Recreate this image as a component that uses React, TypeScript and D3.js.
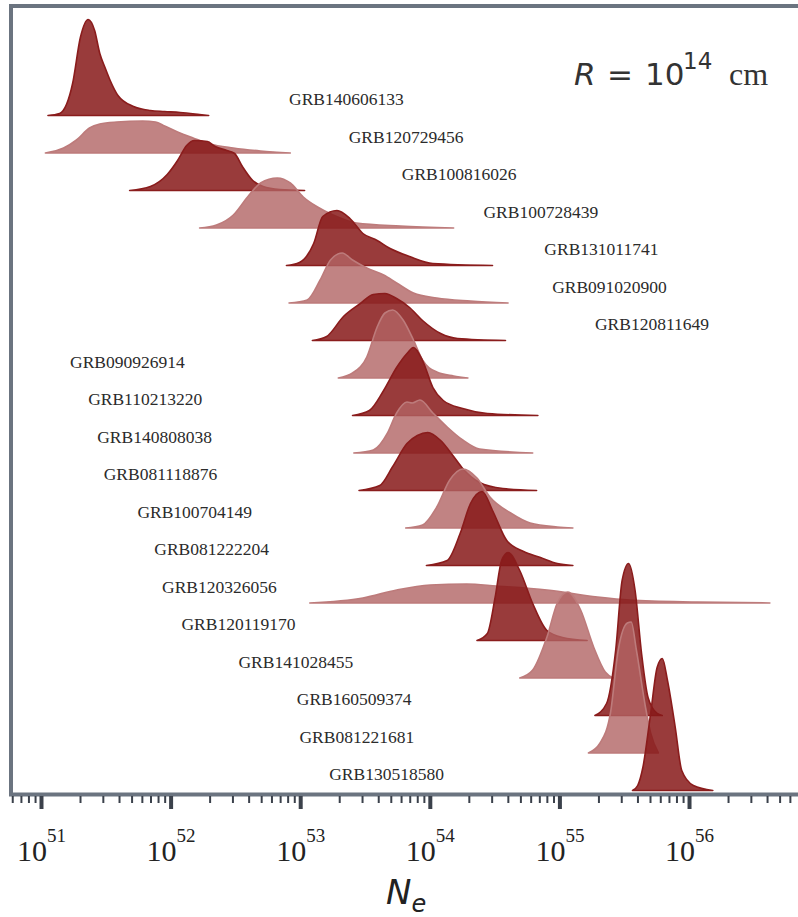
import React, { useEffect, useRef } from "react";
import * as d3 from "d3";

const W = 798;
const H = 917;

// ridge names, top to bottom
const grbNames = [
  "GRB140606133", "GRB120729456", "GRB100816026", "GRB100728439", "GRB131011741",
  "GRB091020900", "GRB120811649", "GRB090926914", "GRB110213220", "GRB140808038",
  "GRB081118876", "GRB100704149", "GRB081222204", "GRB120326056", "GRB120119170",
  "GRB141028455", "GRB160509374", "GRB081221681", "GRB130518580",
];

// where each name label starts (log10 Ne)
const labelLogN = [
  52.91, 53.37, 53.78, 54.41, 54.88, 54.94, 55.27, 51.22, 51.36, 51.43,
  51.48, 51.74, 51.87, 51.93, 52.08, 52.52, 52.97, 52.99, 53.22,
];

// density curves: [log10 Ne, density]
const ridges: [number, number][][] = [
  [[51.05,0],[51.14,.02],[51.24,.32],[51.30,.78],[51.36,.96],[51.41,.85],[51.45,.62],[51.49,.48],[51.53,.35],[51.59,.2],[51.71,.09],[51.84,.05],[51.95,.04],[52.07,.03],[52.22,.01],[52.29,0]],
  [[51.03,0],[51.17,.05],[51.27,.13],[51.37,.25],[51.45,.29],[51.58,.31],[51.78,.32],[51.88,.31],[51.95,.27],[52.05,.21],[52.17,.15],[52.30,.09],[52.48,.05],[52.69,.02],[52.92,0]],
  [[51.68,0],[51.84,.04],[51.97,.16],[52.05,.3],[52.12,.45],[52.18,.5],[52.28,.49],[52.34,.44],[52.43,.4],[52.49,.37],[52.55,.24],[52.63,.1],[52.71,.04],[52.84,.01],[53.03,0]],
  [[52.22,0],[52.35,.03],[52.48,.13],[52.59,.31],[52.69,.45],[52.82,.5],[52.92,.45],[53.02,.31],[53.13,.21],[53.25,.13],[53.43,.05],[53.77,.02],[54.18,0]],
  [[52.89,0],[52.99,.03],[53.10,.22],[53.17,.49],[53.28,.55],[53.38,.47],[53.48,.32],[53.59,.25],[53.69,.17],[53.84,.09],[54.02,.02],[54.48,0]],
  [[52.91,0],[53.05,.03],[53.15,.23],[53.23,.43],[53.32,.5],[53.40,.43],[53.51,.35],[53.64,.28],[53.74,.2],[53.87,.1],[54.05,.05],[54.31,.02],[54.60,0]],
  [[53.09,0],[53.20,.04],[53.33,.24],[53.46,.37],[53.56,.46],[53.65,.47],[53.74,.42],[53.84,.33],[53.94,.2],[54.08,.07],[54.21,.02],[54.58,0]],
  [[53.29,0],[53.40,.05],[53.51,.21],[53.59,.51],[53.65,.65],[53.71,.68],[53.79,.58],[53.87,.38],[53.94,.18],[54.05,.06],[54.18,.02],[54.29,0]],
  [[53.40,0],[53.53,.05],[53.64,.25],[53.74,.48],[53.82,.62],[53.87,.68],[53.94,.55],[54.02,.28],[54.10,.15],[54.25,.07],[54.44,.02],[54.83,0]],
  [[53.41,0],[53.56,.03],[53.67,.2],[53.74,.4],[53.82,.51],[53.86,.5],[53.92,.53],[54.02,.4],[54.13,.26],[54.25,.13],[54.38,.04],[54.79,0]],
  [[53.45,0],[53.61,.05],[53.71,.24],[53.82,.47],[53.90,.55],[53.98,.58],[54.08,.5],[54.18,.34],[54.25,.22],[54.38,.08],[54.56,.02],[54.82,0]],
  [[53.81,0],[53.94,.03],[54.05,.21],[54.15,.48],[54.25,.59],[54.36,.5],[54.46,.31],[54.62,.15],[54.77,.05],[54.98,.01],[55.10,0]],
  [[53.97,0],[54.13,.05],[54.23,.32],[54.31,.62],[54.40,.74],[54.48,.55],[54.59,.25],[54.72,.14],[54.85,.08],[54.98,.02],[55.10,0]],
  [[53.07,0],[53.48,.05],[53.74,.13],[54.00,.18],[54.28,.19],[54.51,.17],[54.90,.13],[55.29,.06],[55.54,.03],[56.06,.01],[56.62,0]],
  [[54.36,0],[54.44,.07],[54.50,.43],[54.55,.8],[54.60,.88],[54.69,.7],[54.79,.37],[54.90,.1],[55.02,.03],[55.21,0]],
  [[54.69,0],[54.79,.08],[54.90,.41],[54.98,.75],[55.06,.86],[55.16,.68],[55.26,.31],[55.35,.06],[55.41,0]],
  [[55.27,0],[55.36,.12],[55.43,.65],[55.48,1.35],[55.53,1.52],[55.58,1.25],[55.63,.62],[55.68,.18],[55.75,.02],[55.79,0]],
  [[55.22,0],[55.31,.1],[55.39,.4],[55.45,1.03],[55.52,1.3],[55.55,1.31],[55.59,1.03],[55.66,.46],[55.70,.2],[55.76,0]],
  [[55.56,0],[55.60,.05],[55.64,.23],[55.70,.77],[55.75,1.23],[55.79,1.32],[55.83,1.1],[55.89,.63],[55.94,.2],[56.03,.05],[56.18,0]],
];

const darkFill = "rgb(135,25,25)";
const lightFill = "rgb(178,100,100)";
const frameColor = "#6b7480";
const serif = "'Liberation Serif', 'Times New Roman', serif";
const sans = "'DejaVu Sans', sans-serif";

const App = () => {
  const ref = useRef<SVGSVGElement>(null);

  useEffect(() => {
    const svg = d3.select(ref.current);
    svg.selectAll("*").remove();

    const x = d3.scaleLog().domain([10 ** 50.757, 10 ** 56.837]).range([10, W]);
    const yBase = d3.scalePoint().domain(grbNames).range([115.5, 790.5]);
    const yDens = d3.scaleLinear().domain([0, 1]).range([0, 100]);

    // ridges, top row first so lower rows sit on top
    ridges.forEach((pts, i) => {
      const base = yBase(grbNames[i]) as number;
      const dark = i % 2 === 0;
      const area = d3
        .area<[number, number]>()
        .x((d) => x(10 ** d[0]))
        .y0(base)
        .y1((d) => base - yDens(d[1]))
        .curve(d3.curveMonotoneX);
      svg
        .append("path")
        .attr("d", area(pts))
        .attr("fill", dark ? darkFill : lightFill)
        .attr("fill-opacity", dark ? 0.85 : 0.8)
        .attr("stroke", dark ? "#8a1c1c" : "#bd7b7b")
        .attr("stroke-width", 1.6)
        .attr("stroke-linejoin", "round");
    });

    // names
    svg
      .selectAll(".lbl")
      .data(grbNames)
      .join("text")
      .attr("class", "lbl")
      .attr("x", (d, i) => x(10 ** labelLogN[i]))
      .attr("y", (d) => (yBase(d) as number) - 10.5)
      .attr("font-family", serif)
      .attr("font-size", 17.5)
      .attr("fill", "#2b2b2b")
      .text((d) => d);

    // frame
    svg
      .append("path")
      .attr("d", `M${W + 20},6 H11 V794.5 H${W + 20}`)
      .attr("fill", "none")
      .attr("stroke", frameColor)
      .attr("stroke-width", 4);

    // ticks
    const ticks = x.ticks().filter((t) => x(t) >= 10 && x(t) <= W);
    const isMajor = (t: number) => Math.abs(Math.log10(t) - Math.round(Math.log10(t))) < 1e-6;
    svg
      .selectAll(".tick")
      .data(ticks)
      .join("line")
      .attr("class", "tick")
      .attr("x1", (t) => x(t))
      .attr("x2", (t) => x(t))
      .attr("y1", 796)
      .attr("y2", (t) => (isMajor(t) ? 809 : 803))
      .attr("stroke", "#3b414b")
      .attr("stroke-width", (t) => (isMajor(t) ? 4 : 2));

    const lab = svg
      .selectAll(".tl")
      .data(ticks.filter(isMajor))
      .join("text")
      .attr("class", "tl")
      .attr("x", (t) => x(t))
      .attr("y", 861)
      .attr("text-anchor", "middle")
      .attr("font-family", serif)
      .attr("fill", "#222");
    lab.append("tspan").attr("font-size", 30).text("10");
    lab
      .append("tspan")
      .attr("font-size", 19)
      .attr("dy", -19)
      .text((t) => String(Math.round(Math.log10(t))));

    // axis title
    const title = svg.append("text").attr("x", 386).attr("y", 904).attr("fill", "#222").attr("font-family", sans);
    title.append("tspan").attr("font-size", 34).attr("font-style", "italic").text("N");
    title.append("tspan").attr("font-size", 24).attr("font-style", "italic").attr("dy", 8).text("e");

    // annotation
    const ann = svg.append("g").attr("fill", "#333");
    ann.append("text").attr("x", 574).attr("y", 85).attr("font-family", sans).attr("font-style", "italic").attr("font-size", 31).text("R");
    ann.append("text").attr("x", 607).attr("y", 85).attr("font-family", sans).attr("font-size", 31).text("=");
    ann.append("text").attr("x", 645).attr("y", 85).attr("font-family", sans).attr("font-size", 31).text("10");
    ann.append("text").attr("x", 683).attr("y", 69).attr("font-family", sans).attr("font-size", 23).text("14");
    ann.append("text").attr("x", 729).attr("y", 85).attr("font-family", serif).attr("font-size", 32).text("cm");
  }, []);

  return (
    <svg
      ref={ref}
      width={W}
      height={H}
      style={{ position: "absolute", left: 0, top: 0, background: "#fff" }}
    />
  );
};

export default App;
